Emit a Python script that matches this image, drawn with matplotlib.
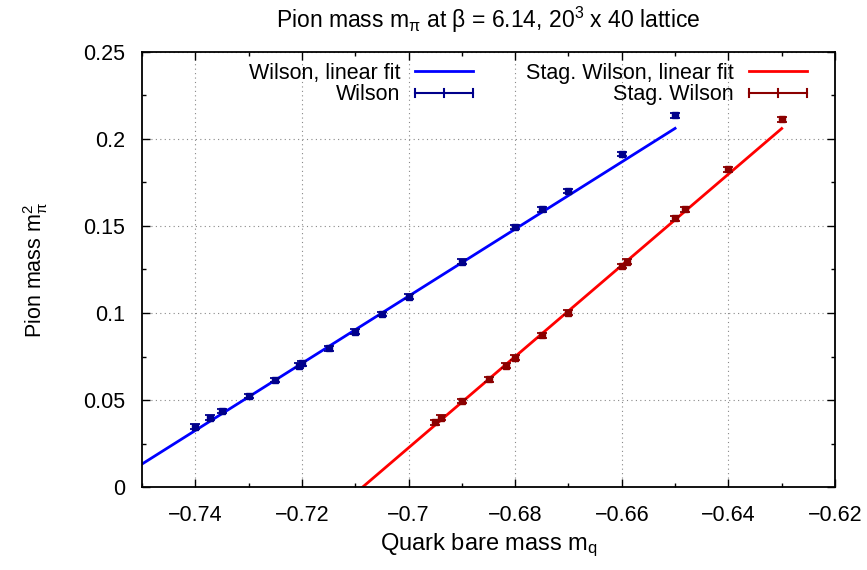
import matplotlib
matplotlib.use("Agg")
import matplotlib.pyplot as plt
import numpy as np
from matplotlib.lines import Line2D
from matplotlib.legend_handler import HandlerBase
from matplotlib.ticker import MultipleLocator, FuncFormatter

plt.rcParams['font.family'] = ['Liberation Sans', 'DejaVu Sans']
plt.rcParams['mathtext.fontset'] = 'custom'
plt.rcParams['mathtext.rm'] = 'Liberation Sans'
plt.rcParams['mathtext.it'] = 'Liberation Sans:italic'

# Wilson data (quark bare mass, pion mass squared)
wilson_mq = [-0.740, -0.7372, -0.735, -0.730, -0.725, -0.7205, -0.720, -0.715,
             -0.710, -0.705, -0.700, -0.690, -0.680, -0.675, -0.670, -0.660, -0.650]
wilson_m2 = [0.0347, 0.0398, 0.0437, 0.0523, 0.0615, 0.0697, 0.0711, 0.0797,
             0.0893, 0.0995, 0.1094, 0.1295, 0.1493, 0.1596, 0.1701, 0.1914, 0.2136]
wilson_err = 0.0013

# Staggered Wilson data
stag_mq = [-0.695, -0.6939, -0.690, -0.685, -0.6818, -0.680, -0.675, -0.670,
           -0.660, -0.659, -0.650, -0.6481, -0.640, -0.630]
stag_m2 = [0.0372, 0.0398, 0.0494, 0.0619, 0.0697, 0.0743, 0.0872, 0.1002,
           0.1270, 0.1295, 0.1544, 0.1596, 0.1826, 0.2113]
stag_err = 0.0013

# linear fits: slope, x0, y at x0 and drawn range
wilson_fit = (1.929, -0.75, 0.0132)
wilson_range = (-0.75, -0.65)
stag_fit = (2.621, -0.7086, 0.0)
stag_range = (-0.7086, -0.63)

FS = 15.5


class HBarHandler(HandlerBase):
    # gnuplot-style errorbar key: horizontal bar with three ticks
    def create_artists(self, legend, orig_handle, xdescent, ydescent,
                       width, height, fontsize, trans):
        c = orig_handle.get_color()
        y = height / 2 - ydescent
        h = height * 0.25
        arts = [Line2D([-xdescent, width - xdescent], [y, y], color=c, lw=1.5, transform=trans)]
        for xx in (-xdescent, width / 2 - xdescent, width - xdescent):
            arts.append(Line2D([xx, xx], [y - h, y + h], color=c, lw=1.5, transform=trans))
        return arts


def fmt(v, pos):
    s = "%g" % round(v, 4)
    return s.replace("-", "\u2212")


fig = plt.figure(figsize=(8.67, 5.70), dpi=100)
ax = fig.add_axes([0.1638, 0.1456, 0.7993, 0.7632])

xs = np.array(wilson_range)
ax.plot(xs, wilson_fit[2] + wilson_fit[0] * (xs - wilson_fit[1]), color='#0000ff', lw=2, zorder=2)
xs = np.array(stag_range)
ax.plot(xs, stag_fit[2] + stag_fit[0] * (xs - stag_fit[1]), color='#ff0000', lw=2, zorder=2)

ax.errorbar(wilson_mq, wilson_m2, yerr=wilson_err, fmt='s', ms=3.8, color='#00008b',
            capsize=3.5, elinewidth=1.3, capthick=1.3, zorder=3)
ax.errorbar(stag_mq, stag_m2, yerr=stag_err, fmt='s', ms=3.8, color='#8b0000',
            capsize=3.5, elinewidth=1.3, capthick=1.3, zorder=3)

ax.set_xlim(-0.75, -0.62)
ax.set_ylim(0, 0.25)
ax.xaxis.set_major_locator(MultipleLocator(0.02))
ax.xaxis.set_minor_locator(MultipleLocator(0.01))
ax.yaxis.set_major_locator(MultipleLocator(0.05))
ax.yaxis.set_minor_locator(MultipleLocator(0.025))
ax.xaxis.set_major_formatter(FuncFormatter(fmt))
ax.yaxis.set_major_formatter(FuncFormatter(fmt))
ax.tick_params(which='both', direction='in', top=True, right=True, labelsize=FS, width=1)
ax.tick_params(which='major', length=6)
ax.tick_params(axis='x', which='major', pad=13)
ax.tick_params(axis='y', which='major', pad=12)
ax.tick_params(which='minor', length=3)
for s in ax.spines.values():
    s.set_linewidth(1.3)
ax.grid(True, which='major', linestyle=(0, (1, 3)), color='#888888', lw=0.8)

ax.set_xlabel('Quark bare mass m$_\\mathregular{q}$', fontsize=17, labelpad=4)
ax.set_ylabel('Pion mass m$_\\mathregular{π}^\\mathregular{2}$', fontsize=FS, labelpad=24)
ax.set_title('Pion mass m$_\\mathregular{π}$ at β = 6.14, 20$^\\mathregular{3}$ x 40 lattice',
             fontsize=16.5, pad=17)

h_wfit = Line2D([], [], color='#0000ff', lw=2)
h_w = Line2D([], [], color='#00008b')
h_sfit = Line2D([], [], color='#ff0000', lw=2)
h_s = Line2D([], [], color='#8b0000')
handler = HBarHandler()

leg1 = ax.legend([h_wfit, h_w], ['Wilson, linear fit', 'Wilson'], loc='upper right',
                 bbox_to_anchor=(0.478, 0.975), frameon=False, markerfirst=False,
                 fontsize=FS, handlelength=2.7, handletextpad=0.7, labelspacing=0.02,
                 borderpad=0, borderaxespad=0, handler_map={h_w: handler})
ax.add_artist(leg1)
ax.legend([h_sfit, h_s], ['Stag. Wilson, linear fit', 'Stag. Wilson'], loc='upper right',
          bbox_to_anchor=(0.96, 0.975), frameon=False, markerfirst=False,
          fontsize=FS, handlelength=2.7, handletextpad=0.7, labelspacing=0.02,
          borderpad=0, borderaxespad=0, handler_map={h_s: handler})

fig.savefig('out.png', dpi=100)
